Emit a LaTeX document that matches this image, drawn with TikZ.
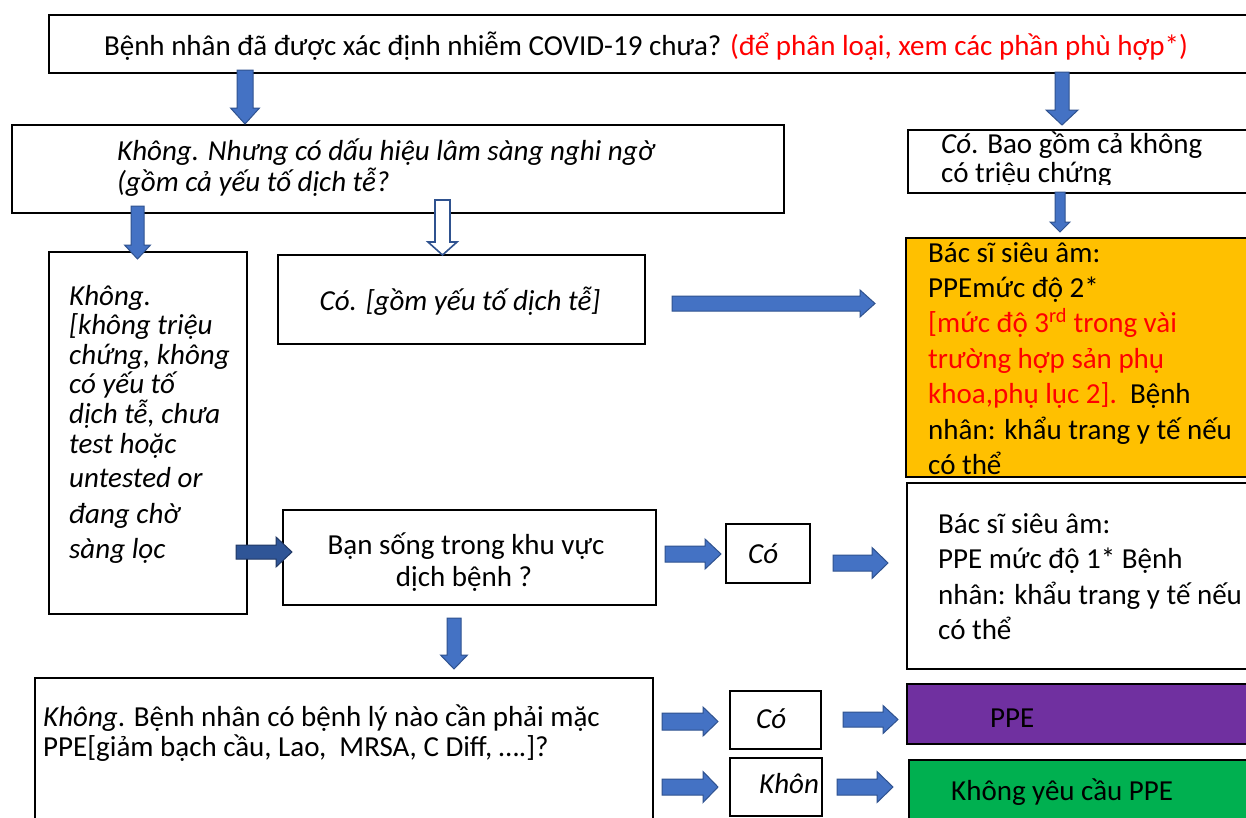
\documentclass[tikz,border=0pt]{standalone}
\usepackage{fontspec}
\setmainfont{Carlito}
\definecolor{ablue}{HTML}{4472C4}
\definecolor{aedge}{HTML}{2F528F}
\definecolor{adark}{HTML}{2F5597}
\definecolor{adarkedge}{HTML}{203864}
\definecolor{tred}{HTML}{FF0000}
\definecolor{orangebox}{HTML}{FFC000}
\definecolor{purplebox}{HTML}{7030A0}
\definecolor{greenbox}{HTML}{00B050}
\tikzset{
  box/.style={draw=black, line width=2.2pt, inner sep=0pt, anchor=north west},
  txt/.style={font=\fontsize{29}{35}\selectfont, inner sep=0pt, anchor=base west},
  itxt/.style={font=\fontsize{29}{35}\selectfont\itshape, inner sep=0pt, anchor=base west},
  blk/.style={fill=ablue, draw=aedge, line width=1pt, line join=miter},
  blkdark/.style={fill=adark, draw=adarkedge, line width=1pt, line join=miter},
  blkhollow/.style={fill=white, draw=aedge, line width=1.6pt, line join=miter},
}
% horizontal block arrow: [style]{x start}{x head}{x tip}{y centre}{shaft half}{head half}
\newcommand{\harrow}[7][blk]{%
  \path[#1] (#2,{#5-#6}) -- (#3,{#5-#6}) -- (#3,{#5-#7}) -- (#4,#5) -- (#3,{#5+#7}) -- (#3,{#5+#6}) -- (#2,{#5+#6}) -- cycle;}
% vertical block arrow: [style]{x centre}{y start}{y head}{y tip}{shaft half}{head half}
\newcommand{\varrow}[7][blk]{%
  \path[#1] ({#2-#6},#3) -- ({#2-#6},#4) -- ({#2-#7},#4) -- (#2,#5) -- ({#2+#7},#4) -- ({#2+#6},#4) -- ({#2+#6},#3) -- cycle;}
\begin{document}
\begin{tikzpicture}[x=1pt, y=-1pt]
\useasboundingbox (0,0) rectangle (1246,817);
\clip (0,0) rectangle (1246,817);
\fill[white] (0,0) rectangle (1246,817);

% ---------- boxes ----------
\node[box, minimum width=1220pt, minimum height=58pt] (q0) at (48,14) {};
\node[box, minimum width=772pt, minimum height=88pt] (nokhong) at (11,124) {};
\node[box, minimum width=360pt, minimum height=63pt] (yesco) at (907,129) {};
\node[box, minimum width=198pt, minimum height=362pt] (tall) at (48,251) {};
\node[box, minimum width=367pt, minimum height=89pt] (cogom) at (277,254) {};
\node[box, fill=orangebox, minimum width=360pt, minimum height=239pt] (lvl2) at (905,237) {};
\node[box, minimum width=373pt, minimum height=95pt] (bansong) at (282,509) {};
\node[box, minimum width=84pt, minimum height=59pt] (co1) at (725,523) {};
\node[box, minimum width=360pt, minimum height=186pt] (lvl1) at (906,482) {};
\node[box, minimum width=618pt, minimum height=160pt] (benhly) at (34,677) {};
\node[box, minimum width=91pt, minimum height=58pt] (co2) at (729,690) {};
\node[box, fill=purplebox, minimum width=360pt, minimum height=60pt] (ppe) at (906,683) {};
\node[box, minimum width=92pt, minimum height=58pt] (khong2) at (729,757) {};
\node[box, fill=greenbox, minimum width=360pt, minimum height=80pt] (noppe) at (908,759) {};

% ---------- texts ----------
\node[txt, anchor=base] (t0) at (646,55) {Bệnh nhân đã được xác định nhiễm COVID-19 chưa? \textcolor{tred}{(để phân loại, xem các phần phù hợp*)}};

\node[itxt] (t1a) at (117,160) {Không. Nhưng có dấu hiệu lâm sàng nghi ngờ};
\node[itxt] (t1b) at (117,191) {(gồm cả yếu tố dịch tễ?};

\node[txt] (t2a) at (941,153) {\textit{Có}. Bao gồm cả không};
\begin{scope}
\clip (900,150) rectangle (1246,184);
\node[txt] (t2b) at (941,182) {có triệu chứng};
\end{scope}

\node[itxt] (t3a) at (69,305) {Không.};
\node[itxt] (t3b) at (69,334) {[không triệu};
\node[itxt] (t3c) at (69,364) {chứng, không};
\node[itxt] (t3d) at (69,393) {có yếu tố};
\node[itxt] (t3e) at (69,423) {dịch tễ, chưa};
\node[itxt] (t3f) at (69,453) {test hoặc};
\node[itxt] (t3g) at (69,487) {untested or};
\node[itxt] (t3h) at (69,523) {đang chờ};
\node[itxt] (t3i) at (69,558) {sàng lọc};

\node[itxt, anchor=base] (t4) at (460,310) {Có. [gồm yếu tố dịch tễ]};

\node[txt] (t5a) at (928,262) {Bác sĩ siêu âm:};
\node[txt] (t5b) at (928,297) {PPEmức độ 2*};
\node[txt, text=tred] (t5c) at (928,332) {[mức độ 3\textsuperscript{rd} trong vài};
\node[txt, text=tred] (t5d) at (928,368) {trường hợp sản phụ};
\node[txt] (t5e) at (928,403) {\textcolor{tred}{khoa,phụ lục 2].}\ \ Bệnh};
\node[txt] (t5f) at (928,439) {nhân: khẩu trang y tế nếu};
\node[txt] (t5g) at (928,474) {có thể};

\node[txt, anchor=base] (t6a) at (466,554) {Bạn sống trong khu vực};
\node[txt, anchor=base] (t6b) at (464,586) {dịch bệnh ?};

\node[itxt] (t7) at (748,563) {Có};

\node[txt] (t8a) at (938,533) {Bác sĩ siêu âm:};
\node[txt] (t8b) at (938,568) {PPE mức độ 1* Bệnh};
\node[txt] (t8c) at (938,604) {nhân: khẩu trang y tế nếu};
\node[txt] (t8d) at (938,639) {có thể};

\node[txt] (t9a) at (43,726) {\textit{Không}. Bệnh nhân có bệnh lý nào cần phải mặc};
\node[txt] (t9b) at (43,756) {PPE[giảm bạch cầu, Lao,\ \ MRSA, C Diff, ….]?};

\node[itxt] (t10) at (756,728) {Có};
\node[txt] (t11) at (990,727) {PPE};
\begin{scope}
\clip (729,757) rectangle (819,815);
\node[itxt] (t12) at (759,793) {Khôn};
\end{scope}
\node[txt] (t13) at (951,800) {Không yêu cầu PPE};

% ---------- block arrows ----------
\varrow{245}{70}{108}{124}{8}{14.5}
\varrow{1062}{72}{110}{125}{7}{16}
\varrow{137.5}{206}{245}{259}{6.5}{13}
\varrow[blkhollow]{442.5}{200}{242}{255}{7.5}{14.5}
\varrow{1060}{192}{222}{232}{5}{10}
\varrow{454}{618}{655}{669}{7}{13.5}
\harrow{672}{860}{875}{303.5}{7.5}{13.5}
\harrow[blkdark]{236}{276}{292}{552}{7}{15}
\harrow{665}{705}{721}{554}{8}{15}
\harrow{833}{872}{888}{563}{8}{15.5}
\harrow{662}{703}{718}{721.5}{8.5}{14.5}
\harrow{843}{883}{898}{719.5}{7.5}{14}
\harrow{662}{703}{718}{787}{8}{15.5}
\harrow{837}{877}{893}{787}{8}{15.5}
\end{tikzpicture}
\end{document}
